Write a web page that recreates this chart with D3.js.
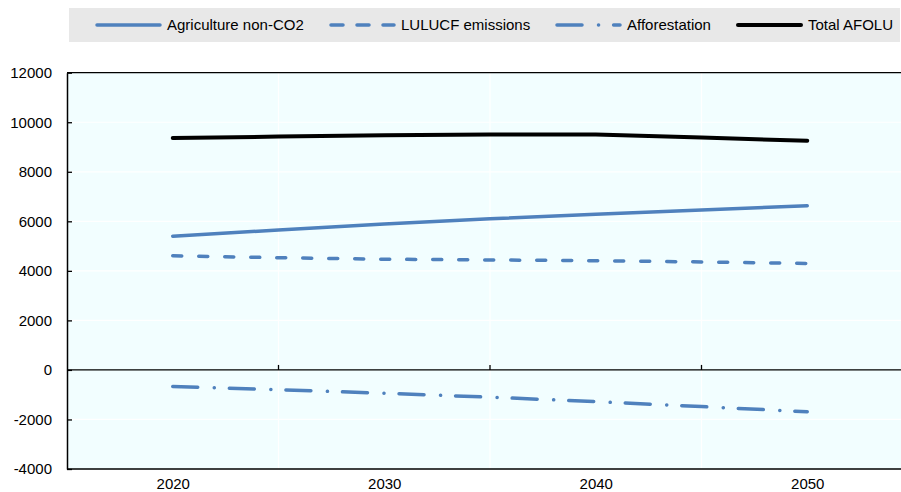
<!DOCTYPE html>
<html>
<head>
<meta charset="utf-8">
<script src="https://cdn.jsdelivr.net/npm/d3@7"></script>
<style>
  body { margin: 0; background: #fff; }
  svg text { font-family: "Liberation Sans", Arial, sans-serif; fill: #000; }
</style>
</head>
<body>
<svg id="chart" width="901" height="492"></svg>
<script>
// years (5-year steps) and values
var years = [2020, 2025, 2030, 2035, 2040, 2045, 2050];
var agriculture = [5400, 5650, 5890, 6100, 6290, 6460, 6630];
var lulucf = [4610, 4530, 4470, 4440, 4410, 4360, 4300];
var afforestation = [-670, -800, -940, -1100, -1280, -1480, -1690];
var totalAfolu = [9360, 9420, 9470, 9500, 9500, 9380, 9250];

var xLabels = [2020, 2030, 2040, 2050];
var xTicks = [2025, 2035, 2045];
var yTicks = [-4000, -2000, 0, 2000, 4000, 6000, 8000, 10000, 12000];

var seriesNames = ["Agriculture non-CO2", "LULUCF emissions", "Afforestation", "Total AFOLU"];

var blue = "#4F81BD";
var series = [
  { name: seriesNames[0], values: agriculture, color: blue, dash: null, width: 3.5 },
  { name: seriesNames[1], values: lulucf, color: blue, dash: "9,17", width: 3.5 },
  { name: seriesNames[2], values: afforestation, color: blue, dash: "25,16.5,0.1,15", width: 3.5 },
  { name: seriesNames[3], values: totalAfolu, color: "#000", dash: null, width: 4 }
];

var svg = d3.select("#chart");
var plotLeft = 67, plotTop = 72.7, plotBottom = 469;

var x = d3.scaleLinear().domain([2015, 2055]).range([plotLeft, 913]);
var y = d3.scaleLinear().domain([-4000, 12000]).range([plotBottom, plotTop]);

// plot background
svg.append("rect")
  .attr("x", plotLeft).attr("y", plotTop)
  .attr("width", 901 - plotLeft).attr("height", plotBottom - plotTop)
  .attr("fill", "#F2FEFF");

// white gridlines
svg.append("g").selectAll("line").data(yTicks.filter(d => d != 0 && d != 12000 && d != -4000))
  .join("line")
  .attr("x1", plotLeft).attr("x2", 901)
  .attr("y1", d => y(d)).attr("y2", d => y(d))
  .attr("stroke", "#fff").attr("stroke-width", 1.2);

svg.append("g").selectAll("line").data(xTicks)
  .join("line")
  .attr("x1", d => x(d)).attr("x2", d => x(d))
  .attr("y1", plotTop).attr("y2", plotBottom)
  .attr("stroke", "#fff").attr("stroke-width", 1.2);

// top border and bottom axis
svg.append("line").attr("x1", plotLeft).attr("x2", 901).attr("y1", plotTop).attr("y2", plotTop)
  .attr("stroke", "#000").attr("stroke-width", 1.3);
svg.append("line").attr("x1", plotLeft).attr("x2", 901).attr("y1", plotBottom).attr("y2", plotBottom)
  .attr("stroke", "#000").attr("stroke-width", 1.3);

// zero line with category ticks
svg.append("line").attr("x1", plotLeft).attr("x2", 901).attr("y1", y(0)).attr("y2", y(0))
  .attr("stroke", "#000").attr("stroke-width", 1.3);
svg.append("g").selectAll("line").data(xTicks)
  .join("line")
  .attr("x1", d => x(d)).attr("x2", d => x(d))
  .attr("y1", y(0)).attr("y2", y(0) - 5)
  .attr("stroke", "#000").attr("stroke-width", 1.3);

// y axis (plain hyphen for negatives, like the original)
var yAxis = d3.axisLeft(y).tickValues(yTicks).tickSizeInner(-5).tickSizeOuter(0).tickPadding(15)
  .tickFormat(d => String(d));
var yg = svg.append("g").attr("transform", "translate(" + plotLeft + ",0)").call(yAxis);
yg.select(".domain").attr("stroke", "#000").attr("stroke-width", 1.5);
yg.selectAll(".tick line").attr("stroke", "#000").attr("stroke-width", 1.3);
yg.selectAll(".tick text").attr("font-size", 15).style("font-family", "Liberation Sans, Arial, sans-serif");

// x labels
var xAxis = d3.axisBottom(x).tickValues(xLabels).tickSize(0).tickPadding(9).tickFormat(d => String(d));
var xg = svg.append("g").attr("transform", "translate(0," + plotBottom + ")").call(xAxis);
xg.select(".domain").remove();
xg.selectAll(".tick text").attr("font-size", 15).style("font-family", "Liberation Sans, Arial, sans-serif");

// lines
var line = d3.line().x((d, i) => x(years[i])).y(d => y(d));
series.forEach(s => {
  svg.append("path")
    .datum(s.values)
    .attr("d", line)
    .attr("fill", "none")
    .attr("stroke", s.color)
    .attr("stroke-width", s.width)
    .attr("stroke-linecap", "round")
    .attr("stroke-linejoin", "round")
    .attr("stroke-dasharray", s.dash);
});

// legend
svg.append("rect").attr("x", 69).attr("y", 8).attr("width", 831).attr("height", 34).attr("fill", "#E8E8E8");
var legendX = [97, 331, 557, 738];
var leg = svg.append("g").selectAll("g").data(series).join("g")
  .attr("transform", (d, i) => "translate(" + legendX[i] + ",25)");
leg.append("line")
  .attr("x1", 0).attr("x2", 63).attr("y1", 0).attr("y2", 0)
  .attr("stroke", d => d.color)
  .attr("stroke-width", d => d.width)
  .attr("stroke-linecap", "round")
  .attr("stroke-dasharray", (d, i) => i == 1 ? "12,14" : d.dash);
leg.append("text")
  .attr("x", 70).attr("dy", "0.35em")
  .attr("font-size", 15)
  .text(d => d.name);
</script>
</body>
</html>
